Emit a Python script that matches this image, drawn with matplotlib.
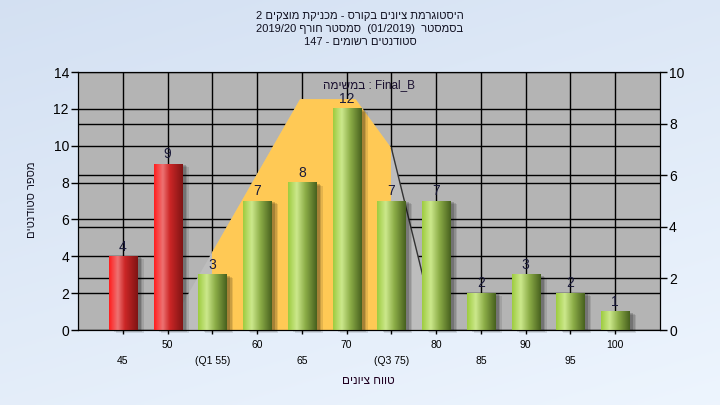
import numpy as np
import matplotlib.pyplot as plt
from matplotlib.patches import Rectangle, Polygon
from matplotlib import transforms

plt.rcParams['font.family'] = ['Liberation Sans', 'DejaVu Sans']

# נתונים
scores = [45, 50, 55, 60, 65, 70, 75, 80, 85, 90, 95, 100]
counts = [4, 9, 3, 7, 8, 12, 7, 7, 2, 3, 2, 1]
tick_labels = ['45', '50', '(Q1 55)', '60', '65', '70', '(Q3 75)', '80', '85', '90', '95', '100']
failed = [45, 50]
curve_score = [50, 64.8, 71, 75, 80]
curve_val = [0, 8.95, 8.95, 7.05, 0]  # right axis
q1, q3 = 55, 75

title = 'היסטוגרמת ציונים בקורס - מכניקת מוצקים 2\nבסמסטר  (01/2019)  סמסטר חורף 2019/20\nסטודנטים רשומים - 147'
legend_txt = 'במשימה : Final_B'
xlabel = 'טווח ציונים'
ylabel = 'מספר סטודנטים'


def is_heb(w):
    return any('\u0590' <= c <= '\u05ff' for c in w)


def heb(s, rtl=True):
    # matplotlib draws left to right, so lay the Hebrew out by hand
    out = []
    for line in s.split('\n'):
        words = [w[::-1] if is_heb(w) else w for w in line.split(' ')]
        if rtl:
            words = words[::-1]
        out.append(' '.join(words))
    return '\n'.join(out)


fig = plt.figure(figsize=(7.2, 4.05), dpi=100)

# background gradient
bg = fig.add_axes([0, 0, 1, 1], zorder=-10)
yy, xx = np.mgrid[0:1:200j, 0:1:200j]
t = np.clip(xx * 0.35 + yy * 0.65, 0, 1)[..., None]
c0 = np.array([0.83, 0.88, 0.95])
c1 = np.array([0.93, 0.96, 0.995])
bg.imshow(c0 * (1 - t) + c1 * t, aspect='auto', extent=[0, 1, 0, 1])
bg.axis('off')

ax = fig.add_axes([78 / 720, 75 / 405, 582 / 720, 258 / 405])
ax.set_facecolor('#b4b4b4')
ax2 = ax.twinx()
scale = 14 / 10

# grid lines
for v in range(0, 15, 2):
    ax.axhline(v, color='black', lw=1, zorder=1)
for v in range(2, 10, 2):
    ax.axhline(v * scale, color='black', lw=1, zorder=1)
for s in scores:
    ax.axvline(s, color='black', lw=1, zorder=1)

# distribution curve
pts = list(zip(curve_score, np.array(curve_val) * scale))
ax.add_patch(Polygon(pts, closed=True, facecolor='#bdbdbd', edgecolor='none', zorder=2))
yellow = Polygon(pts, closed=True, facecolor='#ffc955', edgecolor='none', zorder=2.1)
ax.add_patch(yellow)
yellow.set_clip_path(Rectangle((q1, 0), q3 - q1, 14, transform=ax.transData))
ax.plot(curve_score[-2:], np.array(curve_val[-2:]) * scale, color='#333333', lw=1, zorder=2.2)

# bars (cylinder look)
w = 3.13
u = np.linspace(0, 1, 64)


def ramp(cols, stops):
    return np.stack([np.interp(u, stops, [c[i] for c in cols]) for i in range(3)], axis=-1)


red = ramp([(1.0, 0.12, 0.12), (0.93, 0.45, 0.45), (0.80, 0.15, 0.15), (0.50, 0.08, 0.08)], [0, 0.3, 0.55, 1])
green = ramp([(0.62, 0.80, 0.25), (0.80, 0.91, 0.55), (0.55, 0.68, 0.28), (0.28, 0.38, 0.12)], [0, 0.3, 0.6, 1])

for s, c in zip(scores, counts):
    for i, a in enumerate([0.10, 0.12, 0.18]):
        off = transforms.offset_copy(ax.transData, fig=fig, x=7 - i * 1.5, y=-3 + i, units='dots')
        ax.add_patch(Rectangle((s - w / 2, 0), w, c, transform=off, facecolor='black',
                               alpha=a, lw=0, zorder=2.5, clip_on=False))
    g = red if s in failed else green
    ax.imshow(g[None, :, :], extent=[s - w / 2, s + w / 2, 0, c], aspect='auto',
              interpolation='bilinear', zorder=3)
    ax.annotate(str(c), (s, c), xytext=(0, 2), textcoords='offset points',
                ha='center', va='bottom', fontsize=10, color='#1a1a3a', zorder=4)

ax.set_xlim(40, 105)
ax.set_ylim(0, 14)
ax2.set_ylim(0, 10)
ax.set_yticks(range(0, 15, 2))
ax2.set_yticks(range(0, 11, 2))
ax.set_xticks(scores, tick_labels)
ax.tick_params(axis='y', length=5, width=1, labelsize=10, pad=1.5)
ax2.tick_params(axis='y', length=5, width=1, labelsize=10, pad=1.5)
ax.tick_params(axis='x', length=3, width=1, labelsize=7.5, colors='black')
for i, tk in enumerate(ax.xaxis.get_major_ticks()):
    tk.set_pad(4 if i % 2 else 16)

ax.text(0.5, 0.95, heb(legend_txt, rtl=False), transform=ax.transAxes, ha='center', va='center',
        fontsize=8.5, color='#1a1030', zorder=5)

fig.text(0.5, 1 - 11 / 405, heb(title), ha='center', va='top', fontsize=8,
         linespacing=1.35, color='#101020')
fig.text(32 / 720, 1 - 200 / 405, heb(ylabel), rotation=90, ha='center', va='center',
         fontsize=8, color='#101020')
fig.text(368 / 720, 1 - 381 / 405, heb(xlabel), ha='center', va='center',
         fontsize=8.5, color='#200020')

fig.savefig('out.png', dpi=100)
